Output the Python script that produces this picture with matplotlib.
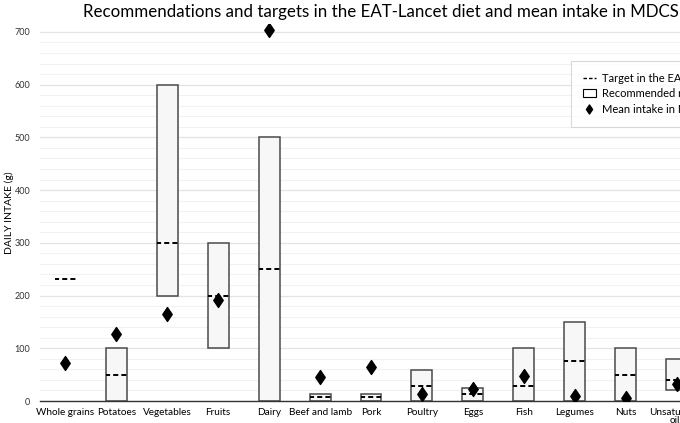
import matplotlib
matplotlib.use('Agg')
import matplotlib.pyplot as plt
import numpy as np
from matplotlib.lines import Line2D
from matplotlib.patches import Patch
from matplotlib.path import Path
from matplotlib.ticker import MultipleLocator

plt.rcParams['font.family'] = ['Lato', 'DejaVu Sans']

# ── data ──
foods = ['Whole grains', 'Potatoes', 'Vegetables', 'Fruits', 'Dairy',
         'Beef and lamb', 'Pork', 'Poultry', 'Eggs', 'Fish', 'Legumes',
         'Nuts', 'Unsaturated\noils']
range_low = [np.nan, 0, 200, 100, 0, 0, 0, 0, 0, 0, 0, 0, 20]
range_high = [np.nan, 100, 600, 300, 500, 14, 14, 58, 25, 100, 150, 100, 80]
target = [232, 50, 300, 200, 250, 7, 7, 29, 13, 28, 75, 50, 40]
mean_intake = [72, 127, 165, 192, 703, 46, 64, 14, 22, 47, 9, 5, 32]

# diamond a bit narrower than tall
diamond = Path([(0, 1), (0.68, 0), (0, -1), (-0.68, 0), (0, 1)],
               [Path.MOVETO, Path.LINETO, Path.LINETO, Path.LINETO, Path.CLOSEPOLY])

fig = plt.figure(figsize=(6.8, 4.23), dpi=100)
# plot area runs past the right edge, like the cropped reference
ax = fig.add_axes([40/680, 22/423, 662/680, 377/423])

x = np.arange(len(foods))
w = 0.41
ax.bar(x, np.array(range_high) - np.array(range_low), bottom=range_low, width=w,
       color='#f7f7f7', edgecolor='#4a4a4a', linewidth=1.1, zorder=2)
ax.hlines(target, x - w/2, x + w/2, colors='black', linestyles=(0.5, (2.6, 1.6)),
          linewidth=1.4, zorder=3)
ax.plot(x, mean_intake, linestyle='none', marker=diamond, markersize=10,
        color='black', zorder=4)

ax.set_xlim(-0.5, len(foods) - 0.5)
ax.set_ylim(0, 715)
ax.yaxis.set_major_locator(MultipleLocator(100))
ax.yaxis.set_minor_locator(MultipleLocator(20))
ax.grid(which='major', axis='y', color='#e3e3e3', linewidth=0.9, zorder=0)
ax.grid(which='minor', axis='y', color='#f1f1f1', linewidth=0.8, zorder=0)
ax.set_axisbelow(True)
for s in ['top', 'right', 'left']:
    ax.spines[s].set_visible(False)
ax.spines['bottom'].set_color('#333333')
ax.spines['bottom'].set_linewidth(1.0)

ax.set_xticks(x)
ax.set_xticklabels(foods, fontsize=7.2, linespacing=0.8)
ax.tick_params(axis='x', length=0, pad=5)
ax.tick_params(axis='y', which='both', length=0, labelsize=6.5, pad=7, labelcolor='#333333')
ax.set_ylabel('DAILY INTAKE (g)', fontsize=7.5)
ax.yaxis.set_label_coords(-0.040, 0.5)

fig.text(83/680, 1 - 12/423, 'Recommendations and targets in the EAT-Lancet diet and mean intake in MDCS',
         fontsize=12.2, ha='left', va='center')

handles = [Line2D([], [], color='black', linestyle=(0, (2.5, 1.5)), linewidth=1.0),
           Patch(facecolor='white', edgecolor='black', linewidth=0.8),
           Line2D([], [], linestyle='none', marker=diamond, markersize=6.5, color='black')]
labels = ['Target in the EAT-Lancet diet', 'Recommended range', 'Mean intake in MDCS']
leg = fig.legend(handles, labels, loc='upper left', bbox_to_anchor=(565/680, 1 - 55/423),
                 fontsize=8, frameon=True, fancybox=False, handlelength=1.2,
                 handleheight=0.7, handletextpad=0.5, borderpad=1.1, labelspacing=0.4)
leg.get_frame().set_edgecolor('#d0d0d0')
leg.get_frame().set_linewidth(0.8)

fig.savefig('out.png', dpi=100)
